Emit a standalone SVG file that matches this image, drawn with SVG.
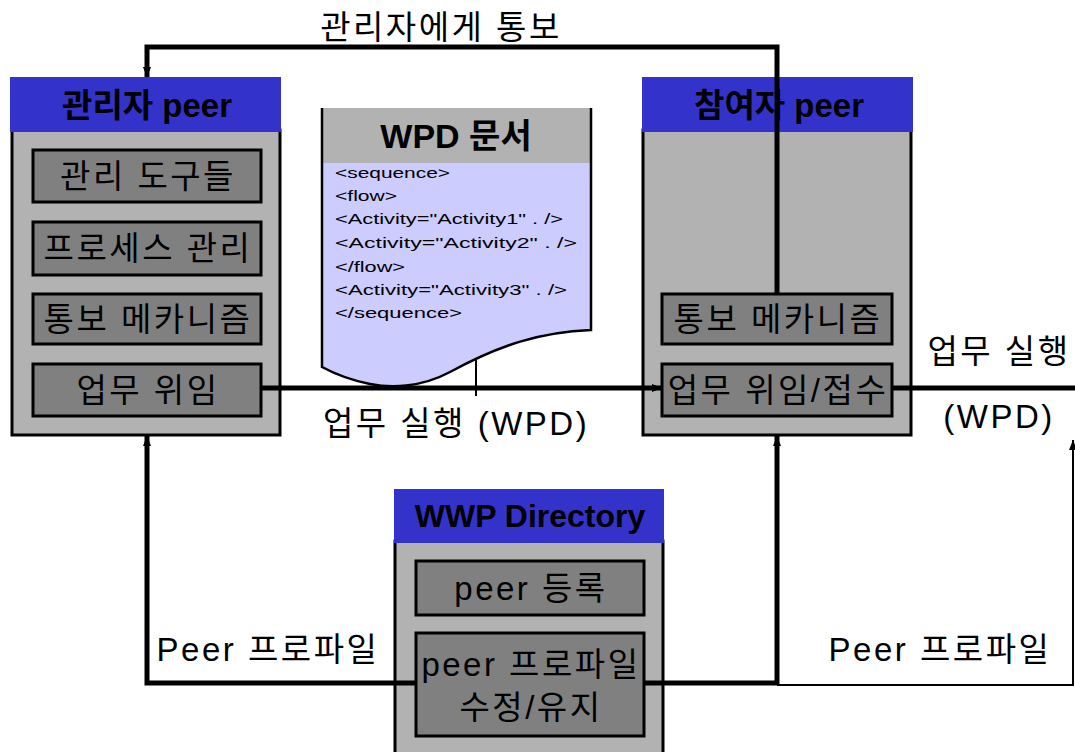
<svg xmlns="http://www.w3.org/2000/svg" width="1075" height="752" viewBox="0 0 1075 752">
<style>
.hdr{fill:#3333cc}
.body{fill:#b2b2b2;stroke:#000;stroke-width:3}
.sub{fill:#808080;stroke:#000;stroke-width:3}
.t{font-family:"Liberation Sans","Noto Sans CJK KR",sans-serif;fill:#000;text-anchor:middle;dominant-baseline:central}
.b{font-weight:bold}
.l{font-size:33px;letter-spacing:2.5px}
.code{font-family:"Liberation Sans",sans-serif;font-size:15px;fill:#000}
.thick{fill:none;stroke:#000;stroke-width:5}
.thin{fill:none;stroke:#000;stroke-width:2}
</style>
<defs>
<marker id="ah" viewBox="0 0 10 10" refX="10" refY="5" markerWidth="10" markerHeight="10" markerUnits="userSpaceOnUse" orient="auto">
<path d="M0,1 L10,5 L0,9 Z" fill="#000"/>
</marker>
</defs>
<rect width="1075" height="752" fill="#fff"/>

<g id="admin-peer">
<rect class="body" x="12" y="130" width="268" height="305"/>
<rect class="hdr" x="10" y="77" width="271" height="55"/>
<text class="t b" x="147" y="105" font-size="33">관리자 peer</text>
<rect class="sub" x="33" y="150" width="228" height="52"/>
<text class="t l" x="148" y="176">관리 도구들</text>
<rect class="sub" x="33" y="222" width="228" height="53"/>
<text class="t l" x="148" y="248">프로세스 관리</text>
<rect class="sub" x="33" y="294" width="228" height="50"/>
<text class="t l" x="148" y="319">통보 메카니즘</text>
<rect class="sub" x="33" y="364" width="228" height="52"/>
<text class="t l" x="148" y="390">업무 위임</text>
</g>

<g id="wpd-doc">
<path d="M322,108 L591,108 L591,330 C540,332 500,345 450,372 C420,388 390,388 370,384 C350,380 335,374 322,367 Z" fill="#ccccff"/>
<rect x="322" y="108" width="269" height="55" fill="#b2b2b2"/>
<path d="M322,108 L322,367 C335,374 350,380 370,384 C390,388 420,388 450,372 C500,345 540,332 591,330 L591,108" fill="none" stroke="#000" stroke-width="2.5"/>
<text class="t b" x="456" y="136" font-size="34">WPD 문서</text>
<text class="code" x="335" y="178" textLength="115" lengthAdjust="spacingAndGlyphs">&lt;sequence&gt;</text>
<text class="code" x="335" y="201" textLength="62" lengthAdjust="spacingAndGlyphs">&lt;flow&gt;</text>
<text class="code" x="335" y="224" textLength="228" lengthAdjust="spacingAndGlyphs">&lt;Activity="Activity1" . /&gt;</text>
<text class="code" x="335" y="248" textLength="242" lengthAdjust="spacingAndGlyphs">&lt;Activity="Activity2"  . /&gt;</text>
<text class="code" x="335" y="272" textLength="70" lengthAdjust="spacingAndGlyphs">&lt;/flow&gt;</text>
<text class="code" x="335" y="295" textLength="232" lengthAdjust="spacingAndGlyphs">&lt;Activity="Activity3" . /&gt;</text>
<text class="code" x="335" y="318" textLength="127" lengthAdjust="spacingAndGlyphs">&lt;/sequence&gt;</text>
</g>

<g id="participant-peer">
<rect class="body" x="643" y="130" width="268" height="305"/>
<rect class="hdr" x="642" y="77" width="271" height="55"/>
<text class="t b" x="779" y="105" font-size="33">참여자 peer</text>
<rect class="sub" x="662" y="294" width="230" height="50"/>
<text class="t l" x="778" y="319">통보 메카니즘</text>
<rect class="sub" x="662" y="364" width="230" height="52"/>
<text class="t l" x="778" y="390">업무 위임/접수</text>
</g>

<g id="wwp-directory">
<rect class="body" x="395" y="541" width="268" height="220"/>
<rect class="hdr" x="394" y="489" width="270" height="54"/>
<text class="t b" x="530" y="516" font-size="32">WWP Directory</text>
<rect class="sub" x="416" y="561" width="228" height="54"/>
<text class="t l" x="531" y="588">peer 등록</text>
<rect class="sub" x="416" y="633" width="228" height="103"/>
<text class="t l" x="531" y="664">peer 프로파일</text>
<text class="t l" x="531" y="707">수정/유지</text>
</g>

<g id="connectors">
<path class="thick" d="M777,293 L777,47 L147,47 L147,77" marker-end="url(#ah)"/>
<path class="thick" d="M262,388 L662,388" marker-end="url(#ah)"/>
<path class="thick" d="M892,388 L1075,388"/>
<path class="thin" d="M476,360 L476,396"/>
<path class="thick" d="M416,683 L147,683 L147,436" marker-end="url(#ah)"/>
<path class="thick" d="M644,683 L777,683 L777,436" marker-end="url(#ah)"/>
<path class="thin" d="M777,685 L1073,685 L1073,440" marker-end="url(#ah)"/>
</g>

<g id="labels">
<text class="t l" x="441" y="27">관리자에게 통보</text>
<text class="t l" x="456" y="423">업무 실행 (WPD)</text>
<text class="t l" x="999" y="351">업무 실행</text>
<text class="t l" x="999" y="416">(WPD)</text>
<text class="t l" x="268" y="649">Peer 프로파일</text>
<text class="t l" x="940" y="649">Peer 프로파일</text>
</g>
</svg>
